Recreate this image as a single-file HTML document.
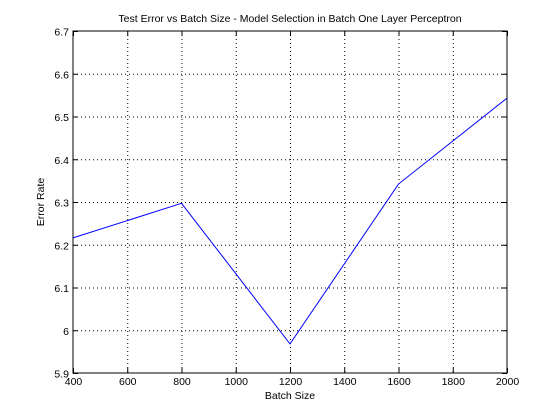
<!DOCTYPE html>
<html><head><meta charset="utf-8"><style>
body{margin:0;background:#fff;}
svg{display:block;font-family:"Liberation Sans",Arial,sans-serif;}
</style></head><body>
<svg id="chart" width="560" height="419">
<rect x="0" y="0" width="560" height="419" fill="#fff"/>
<text x="290" y="22" font-size="10.5" text-anchor="middle">Test Error vs Batch Size - Model Selection in Batch One Layer Perceptron</text>
<text x="290" y="399" font-size="10.5" text-anchor="middle">Batch Size</text>
<text x="0" y="0" font-size="10.5" text-anchor="middle" transform="translate(44,202) rotate(-90)">Error Rate</text>
<g id="grid"></g><g id="ticks"></g>
<rect x="73" y="31" width="434" height="342" fill="none" stroke="#000" stroke-width="1"/>
<polyline id="line" fill="none" stroke="#0000ff" stroke-width="1"/>
</svg>
<script>
const batchSizes=[400,800,1200,1600,2000];
const errorRates=[6.216,6.297,5.968,6.342,6.543];
const xTicks=[400,600,800,1000,1200,1400,1600,1800,2000];
const yTicks=[5.9,6,6.1,6.2,6.3,6.4,6.5,6.6,6.7];
const L=73,R=507,T=31,B=373;
const xs=v=>L+(v-400)/1600*(R-L);
const ys=v=>B-(v-5.9)/0.8*(B-T);
const NS="http://www.w3.org/2000/svg";
const grid=document.getElementById('grid'),ticks=document.getElementById('ticks');
function mk(p,tag,a){const e=document.createElementNS(NS,tag);for(const k in a)e.setAttribute(k,a[k]);p.appendChild(e);return e;}
xTicks.forEach(v=>{const x=xs(v)+0.5;
 if(v!==400&&v!==2000){const g=mk(grid,'line',{x1:x,x2:x,y1:T,y2:B,stroke:'#000','stroke-dasharray':'1,3'});
 
 }
 mk(ticks,'line',{x1:x,x2:x,y1:B,y2:B-5,stroke:'#000'});
 mk(ticks,'line',{x1:x,x2:x,y1:T,y2:T+5,stroke:'#000'});
 const t=mk(ticks,'text',{x:x,y:B+12,'font-size':10.5,'text-anchor':'middle'});t.textContent=v;
 
 });
yTicks.forEach(v=>{const y=ys(v)+0.5;
 if(v!==5.9&&v!==6.7){const g=mk(grid,'line',{x1:L,x2:R,y1:y,y2:y,stroke:'#000','stroke-dasharray':'1,3'});
 
 }
 mk(ticks,'line',{x1:L,x2:L+5,y1:y,y2:y,stroke:'#000'});
 mk(ticks,'line',{x1:R,x2:R-5,y1:y,y2:y,stroke:'#000'});
 const t=mk(ticks,'text',{x:L-4,y:y+4,'font-size':10.5,'text-anchor':'end'});t.textContent=(v===6?'6':v.toFixed(1));
 
 });
document.getElementById('line').setAttribute('points',batchSizes.map((b,i)=>xs(b)+','+ys(errorRates[i])).join(' '));
</script>
</body></html>
